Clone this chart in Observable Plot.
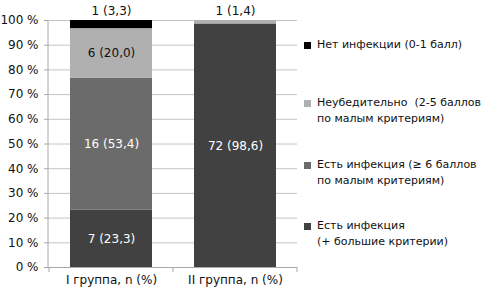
<!DOCTYPE html>
<html><head><meta charset="utf-8">
<script src="https://cdn.jsdelivr.net/npm/d3@7"></script>
<script src="https://cdn.jsdelivr.net/npm/@observablehq/plot@0.6"></script>
<style>
body{margin:0;background:#fff;}
#wrap{position:relative;width:484px;height:296px;font-family:"DejaVu Sans",sans-serif;}
.leg{position:absolute;left:304px;font-size:11px;line-height:16px;color:#111;white-space:pre;}
.sw{position:absolute;left:0;top:5px;width:7px;height:7px;}
.lt{margin-left:13px;}
</style></head>
<body><div id="wrap"></div>
<script>
const groups = ["I группа, n (%)", "II группа, n (%)"];
const categories = [
  "Есть инфекция\n(+ большие критерии)",
  "Есть инфекция (≥ 6 баллов\nпо малым критериям)",
  "Неубедительно  (2-5 баллов\nпо малым критериям)",
  "Нет инфекции (0-1 балл)"
];
const colors = ["#414141", "#6b6b6b", "#b0b0b0", "#000000"];
const labelColors = ["#ffffff", "#ffffff", "#111111", "#ffffff"];
const counts1 = [7, 16, 6, 1];
const pct1 = [23.3, 53.4, 20.0, 3.3];
const counts2 = [72, 0, 1, 0];
const pct2 = [98.6, 0, 1.4, 0];
const pctText1 = ["23,3", "53,4", "20,0", "3,3"];
const pctText2 = ["98,6", "", "1,4", ""];
const yTicks = [0, 10, 20, 30, 40, 50, 60, 70, 80, 90, 100];
const legendTops = [37, 95, 157, 218];

const rows = [];
[[counts1, pct1, pctText1], [counts2, pct2, pctText2]].forEach(([c, p, t], gi) => {
  categories.forEach((cat, ci) => {
    if (c[ci] > 0) rows.push({group: groups[gi], cat, ci, n: c[ci], pct: p[ci], label: `${c[ci]} (${t[ci]})`, inside: p[ci] >= 10});
  });
});
const totals = groups.map(g => ({group: g, total: d3.sum(rows.filter(r => r.group === g), r => r.pct),
  label: rows.filter(r => r.group === g && !r.inside).map(r => r.label).join(" ")}));

const plot = Plot.plot({
  width: 484, height: 296,
  marginLeft: 48, marginRight: 187, marginTop: 20, marginBottom: 29,
  style: {fontFamily: "DejaVu Sans", fontSize: "11px", color: "#111", background: "#fff"},
  x: {domain: groups, paddingInner: 0.34, paddingOuter: 0.17, label: null},
  y: {domain: [0, 100], label: null},
  color: {domain: categories, range: colors},
  marks: [
    Plot.gridY(yTicks, {stroke: "#c4c4c4", strokeOpacity: 1}),
    Plot.barY(rows, {x: "group", y: "pct", fill: "cat"}),
    Plot.text(rows, Plot.stackY({x: "group", y: "pct", text: d => d.inside ? d.label : "", fill: d => labelColors[d.ci], fontSize: 12})),
    Plot.text(totals, {x: "group", y: "total", text: "label", dy: -9, fill: "#111", fontSize: 12}),
    Plot.ruleY([0], {stroke: "#a8a8a8"}),
    Plot.axisY(yTicks, {tickFormat: d => d + " %", tickSize: 4, tickPadding: 6, stroke: "#a8a8a8", fontSize: 12, label: null}),
    Plot.axisX({tickSize: 0, tickPadding: 8, fontSize: 12, label: null})
  ]
});
document.getElementById("wrap").appendChild(plot);

// axis line and category boundary ticks
const xs = plot.scale("x"), ys = plot.scale("y");
const svg = d3.select(plot);
const x0 = xs.range[0], x1 = xs.range[1];
svg.append("line").attr("x1", x0).attr("x2", x0).attr("y1", ys.apply(100)).attr("y2", ys.apply(0)).attr("stroke", "#a8a8a8");
const half = (xs.step - xs.bandwidth) / 2;
const bounds = groups.map(g => xs.apply(g) - half).concat([xs.apply(groups[groups.length - 1]) + xs.bandwidth + half]);
bounds.forEach(b => svg.append("line").attr("x1", b).attr("x2", b).attr("y1", ys.apply(0)).attr("y2", ys.apply(0) + 5).attr("stroke", "#a8a8a8"));

// legend (top to bottom = reverse of stack order)
const wrap = document.getElementById("wrap");
categories.slice().reverse().forEach((cat, i) => {
  const ci = categories.length - 1 - i;
  const div = document.createElement("div");
  div.className = "leg";
  div.style.top = legendTops[i] + "px";
  div.innerHTML = `<span class="sw" style="background:${colors[ci]}"></span><div class="lt"></div>`;
  div.querySelector(".lt").textContent = cat;
  wrap.appendChild(div);
});
</script></body></html>
